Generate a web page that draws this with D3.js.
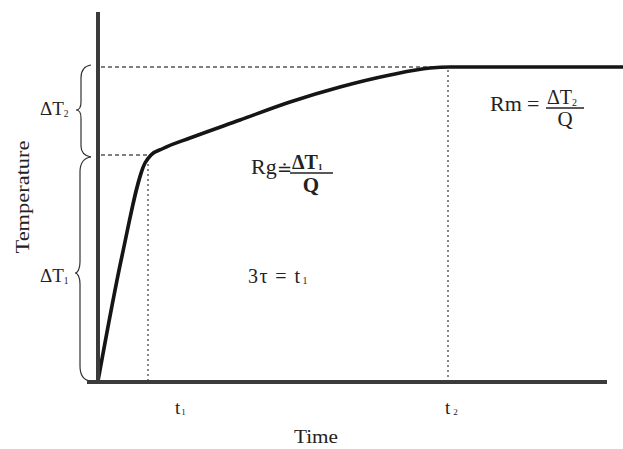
<!DOCTYPE html>
<html><head><meta charset="utf-8">
<script src="https://cdn.jsdelivr.net/npm/d3@7"></script>
<style>
html,body{margin:0;padding:0;background:#fff;}
svg{display:block;}
text{font-family:"Liberation Serif","DejaVu Serif",serif;fill:#222;}
</style></head>
<body>
<svg id="c" width="623" height="449"></svg>
<script>
// ---- data (time units, temperature units) ----
const curveTime = [0, 4.8, 9.4, 10.6, 13, 18.4, 28.4, 38.4, 48.4, 58.4, 66.4, 70.4, 80, 90, 105];
const curveTemp = [0, 25, 43.6, 45.2, 46.5, 48.6, 52.2, 55.8, 58.8, 61.2, 62.6, 62.8, 62.8, 62.8, 62.8];
const t1 = 10, t2 = 70;
const dT1 = 45.2, dTtotal = 62.8;
const tickNames = ["t", "t"];
const tickSubs = ["1", "2"];

const svg = d3.select("#c");
const x = d3.scaleLinear().domain([0, 102]).range([98, 608]);
const y = d3.scaleLinear().domain([0, 74]).range([381, 11]);

const dashCol = "#555";
// dashed guide lines
const guides = [
  [x(0)+3, y(dTtotal), x(t2), y(dTtotal), "4,3"],
  [x(0)+3, y(dT1), x(t1), y(dT1), "4,3"],
  [x(t1), y(dT1)+4, x(t1), y(0), "2,3"],
  [x(t2), y(dTtotal)+3, x(t2), y(0), "2,3"]
];
guides.forEach(g => svg.append("line")
  .attr("x1", g[0]).attr("y1", g[1]).attr("x2", g[2]).attr("y2", g[3])
  .attr("stroke", dashCol).attr("stroke-width", 1.4).attr("stroke-dasharray", g[4]));

// curve
const pts = curveTime.map((t, i) => [t, curveTemp[i]]);
svg.append("path")
  .attr("d", d3.line().x(d => x(d[0])).y(d => y(d[1])).curve(d3.curveMonotoneX)(pts))
  .attr("fill", "none").attr("stroke", "#151515").attr("stroke-width", 3.6)
  .attr("stroke-linejoin", "round");

// axes
const axCol = "#3b3b3b";
svg.append("line").attr("x1", x(0)).attr("x2", x(0)).attr("y1", 12).attr("y2", y(0)+3)
  .attr("stroke", axCol).attr("stroke-width", 4);
svg.append("line").attr("x1", 87).attr("x2", 607).attr("y1", y(0)+1).attr("y2", y(0)+1)
  .attr("stroke", axCol).attr("stroke-width", 4);

// braces
const braces = [
  "M91,65 C84,66 81,70 81,78 L81,102 C81,107 79,110 76,110 C79,110 81,113 81,118 L81,146 C81,152 85,156 91,157",
  "M91,157 C84,158 80,163 80,172 L80,262 C80,268 78,273 75,273 C78,273 80,278 80,284 L80,366 C80,375 84,380 90,381"
];
braces.forEach(b => svg.append("path").attr("d", b).attr("fill", "none")
  .attr("stroke", "#333").attr("stroke-width", 1.2));

// delta labels
function deltaT(xp, yp, sub, size) {
  const t = svg.append("text").attr("x", xp).attr("y", yp).attr("font-size", size);
  t.append("tspan").text("ΔT");
  t.append("tspan").attr("font-size", size * 0.5).attr("dy", 2).text(sub);
  return t;
}
deltaT(40, 115, "2", 19);
deltaT(40, 282, "1", 19);

// axis titles
svg.append("text").attr("transform", "translate(29,197) rotate(-90)")
  .attr("text-anchor", "middle").attr("font-size", 19).attr("textLength", 113)
  .attr("lengthAdjust", "spacingAndGlyphs").text("Temperature");
svg.append("text").attr("x", 316).attr("y", 443).attr("text-anchor", "middle")
  .attr("font-size", 19).attr("textLength", 44).attr("lengthAdjust", "spacingAndGlyphs").text("Time");

// tick labels
[t1, t2].forEach((tv, i) => {
  const xp = x(tv) + (i === 0 ? 27 : -3);
  const t = svg.append("text").attr("x", xp).attr("y", 414).attr("font-size", 19);
  t.append("tspan").text(tickNames[i]);
  t.append("tspan").attr("font-size", 9).attr("dx", i === 0 ? 1 : 3).attr("dy", 1).text(tickSubs[i]);
});

// Rg formula
svg.append("text").attr("x", 251).attr("y", 174).attr("font-size", 22).text("Rg");
svg.append("text").attr("x", 277).attr("y", 175).attr("font-size", 18).text("≐");
const n1 = svg.append("text").attr("x", 292).attr("y", 169).attr("font-size", 20).attr("font-weight", "bold");
n1.append("tspan").text("ΔT");
n1.append("tspan").attr("font-size", 9).attr("dy", 1).text("1");
svg.append("line").attr("x1", 290).attr("x2", 333).attr("y1", 173).attr("y2", 173)
  .attr("stroke", "#222").attr("stroke-width", 1.4);
svg.append("text").attr("x", 311).attr("y", 192).attr("text-anchor", "middle")
  .attr("font-size", 21).attr("font-weight", "bold").text("Q");

// 3tau
const tau = svg.append("text").attr("x", 248).attr("y", 283).attr("font-size", 20);
tau.append("tspan").attr("textLength", 52).attr("lengthAdjust", "spacing").text("3τ = t");
tau.append("tspan").attr("font-size", 10).attr("dx", 1).attr("dy", 1).text("1");

// Rm formula
svg.append("text").attr("x", 490).attr("y", 111).attr("font-size", 22).text("Rm");
svg.append("text").attr("x", 527).attr("y", 111).attr("font-size", 22).text("=");
const n2 = svg.append("text").attr("x", 547).attr("y", 104).attr("font-size", 20);
n2.append("tspan").text("ΔT");
n2.append("tspan").attr("font-size", 10).attr("dy", 2).text("2");
svg.append("line").attr("x1", 546).attr("x2", 584).attr("y1", 108).attr("y2", 108)
  .attr("stroke", "#222").attr("stroke-width", 1.3);
svg.append("text").attr("x", 565).attr("y", 126).attr("text-anchor", "middle")
  .attr("font-size", 21).text("Q");
</script>
</body></html>
